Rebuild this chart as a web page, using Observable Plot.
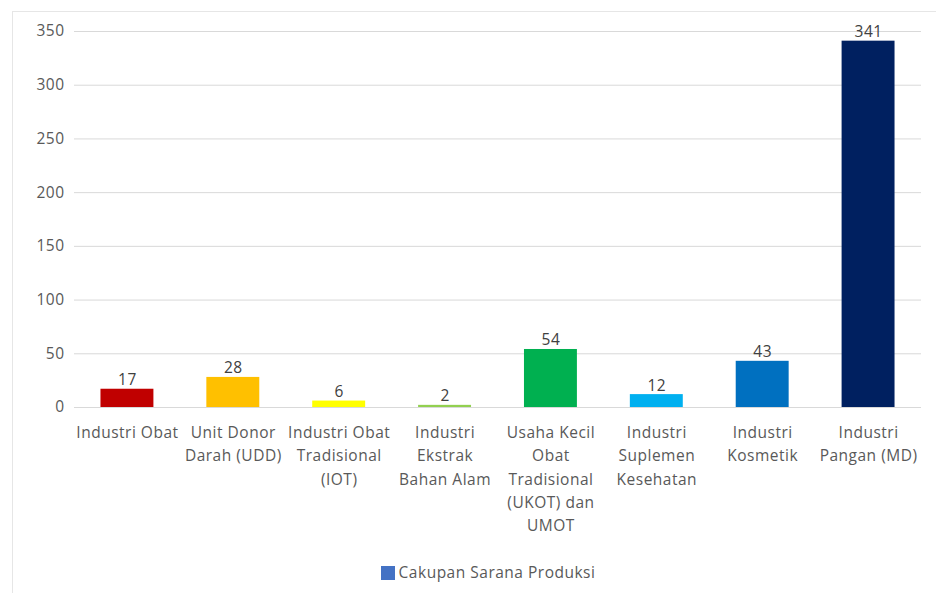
<!DOCTYPE html>
<html>
<head>
<meta charset="utf-8">
<script src="https://cdn.jsdelivr.net/npm/d3@7"></script>
<script src="https://cdn.jsdelivr.net/npm/@observablehq/plot@0.6"></script>
<style>
  html, body { margin: 0; padding: 0; background: #fff; }
  body { width: 936px; height: 593px; position: relative; overflow: hidden; font-family: "Open Sans", sans-serif; }
  #frame { position: absolute; left: 12px; top: 11px; width: 940px; height: 600px; border: 1px solid #e6e6e6; box-sizing: border-box; }
  #chart { position: absolute; left: 0; top: 0; }
  #chart svg text { letter-spacing: 0.5px; }
  #legend { position: absolute; top: 561px; left: 0; width: 976px; text-align: center; font-size: 15.5px; letter-spacing: 0.5px; color: #595959; }
  #legend .sw { display: inline-block; width: 14px; height: 14px; background: #4472C4; vertical-align: -2px; margin-right: 4px; }
</style>
</head>
<body>
<div id="frame"></div>
<div id="chart"></div>
<div id="legend"><span class="sw"></span>Cakupan Sarana Produksi</div>
<script>
const categories = ["Industri Obat", "Unit Donor Darah (UDD)", "Industri Obat Tradisional (IOT)", "Industri Ekstrak Bahan Alam", "Usaha Kecil Obat Tradisional (UKOT) dan UMOT", "Industri Suplemen Kesehatan", "Industri Kosmetik", "Industri Pangan (MD)"];
const tickLabels = ["Industri Obat", "Unit Donor\nDarah (UDD)", "Industri Obat\nTradisional\n(IOT)", "Industri\nEkstrak\nBahan Alam", "Usaha Kecil\nObat\nTradisional\n(UKOT) dan\nUMOT", "Industri\nSuplemen\nKesehatan", "Industri\nKosmetik", "Industri\nPangan (MD)"];
const values = [17, 28, 6, 2, 54, 12, 43, 341];
const colors = ["#C00000", "#FFC000", "#FFFF00", "#92D050", "#00B050", "#00B0F0", "#0070C0", "#002060"];
const yTicks = [0, 50, 100, 150, 200, 250, 300, 350];

const data = categories.map((c, i) => ({category: c, value: values[i], color: colors[i], label: tickLabels[i]}));
const labelOf = new Map(data.map(d => [d.category, d.label]));

const chart = Plot.plot({
  width: 936,
  height: 552,
  marginLeft: 74,
  marginRight: 15,
  marginTop: 31,
  marginBottom: 145,
  style: {fontFamily: "Open Sans, sans-serif", fontSize: "15.5px", color: "#595959", background: "transparent"},
  x: {domain: categories, paddingInner: 0.5, paddingOuter: 0.25, round: false},
  y: {domain: [0, 350]},
  marks: [
    Plot.ruleY(yTicks, {stroke: "#d9d9d9", strokeWidth: 1}),
    Plot.barY(data, {x: "category", y: "value", fill: "color"}),
    Plot.text(data, {x: "category", y: "value", text: d => String(d.value), lineAnchor: "bottom", dy: -4, fill: "#404040", fontSize: 15.5}),
    Plot.axisY({ticks: yTicks, tickSize: 0, tickPadding: 10, label: null, fill: "#595959", fontSize: 15.5}),
    Plot.axisX({tickSize: 0, tickPadding: 14, label: null, tickFormat: d => labelOf.get(d), lineHeight: 1.5, lineAnchor: "top", fill: "#595959", fontSize: 15.5})
  ]
});
document.getElementById("chart").appendChild(chart);
</script>
</body>
</html>
